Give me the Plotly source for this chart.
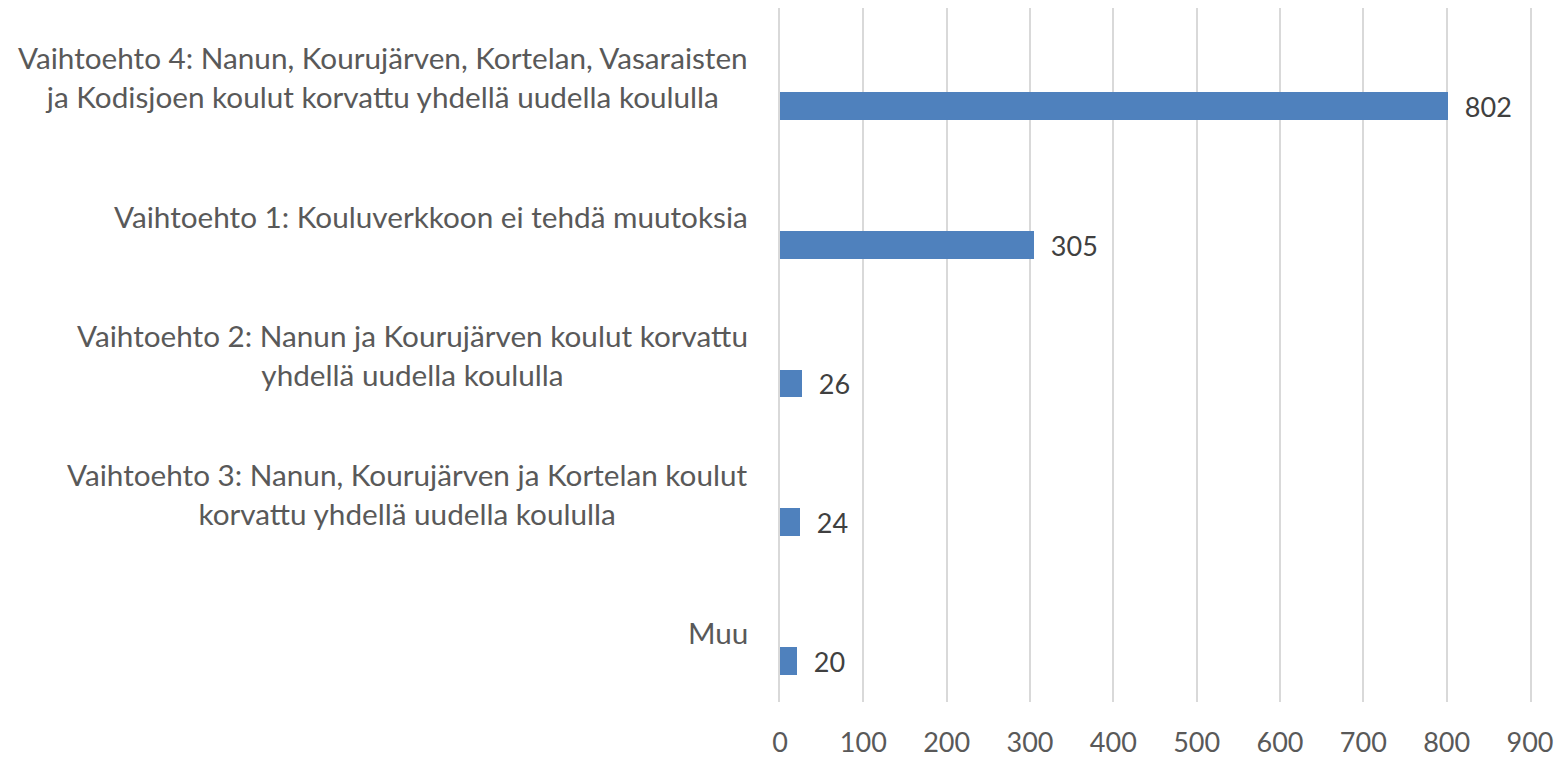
import plotly.graph_objects as go

# data
categories = [
    "Vaihtoehto 4: Nanun, Kourujärven, Kortelan, Vasaraisten<br>ja Kodisjoen koulut korvattu yhdellä uudella koululla",
    "Vaihtoehto 1: Kouluverkkoon ei tehdä muutoksia",
    "Vaihtoehto 2: Nanun ja Kourujärven koulut korvattu<br>yhdellä uudella koululla",
    "Vaihtoehto 3: Nanun, Kourujärven ja Kortelan koulut<br>korvattu yhdellä uudella koululla",
    "Muu",
]
votes = [802, 305, 26, 24, 20]
x_ticks = list(range(0, 1000, 100))

FONT = "Lato"
BAR_COLOR = "#4F81BD"
GRID = "#D9D9D9"

fig = go.Figure()
fig.add_trace(go.Bar(
    y=list(range(len(categories))),
    x=votes,
    orientation="h",
    width=0.2,
    offset=0.105,
    marker=dict(color=BAR_COLOR, line=dict(width=0)),
    texttemplate="\u00a0\u00a0%{x}",
    textposition="outside",
    constraintext="none",
    cliponaxis=False,
    textfont=dict(family=FONT, size=27, color="#404040"),
    showlegend=False,
    hoverinfo="skip",
))

# category labels, centred lines like the original
for i, cat in enumerate(categories):
    fig.add_annotation(
        x=0, xref="paper", y=i, yref="y",
        text=cat, showarrow=False,
        xanchor="right", yanchor="middle", align="center",
        xshift=-30,
        font=dict(family=FONT, size=29.7, color="#595959"),
    )

fig.update_layout(
    width=1566, height=758,
    margin=dict(l=780, r=36, t=8, b=56),
    paper_bgcolor="white",
    plot_bgcolor="white",
    bargap=0,
    xaxis=dict(
        range=[0, 900],
        tickvals=x_ticks,
        showgrid=True, gridcolor=GRID, gridwidth=1.5,
        zeroline=False, showline=False, ticks="",
        automargin=False,
        ticklabelstandoff=22,
        tickfont=dict(family=FONT, size=27, color="#595959"),
    ),
    # y axis line + mirror give the gridlines at 0 and 900 on the plot edges
    yaxis=dict(
        range=[len(categories) - 0.5, -0.5],
        automargin=False,
        showticklabels=False, showgrid=False, zeroline=False,
        showline=True, mirror=True, linecolor=GRID, linewidth=1.5,
        layer="below traces",
    ),
)

# drop the browser's default body margin so the figure sits at the page corner
fig.write_html(
    "out.html",
    config={"displayModeBar": False},
    post_script="document.body.style.margin='0';",
)
